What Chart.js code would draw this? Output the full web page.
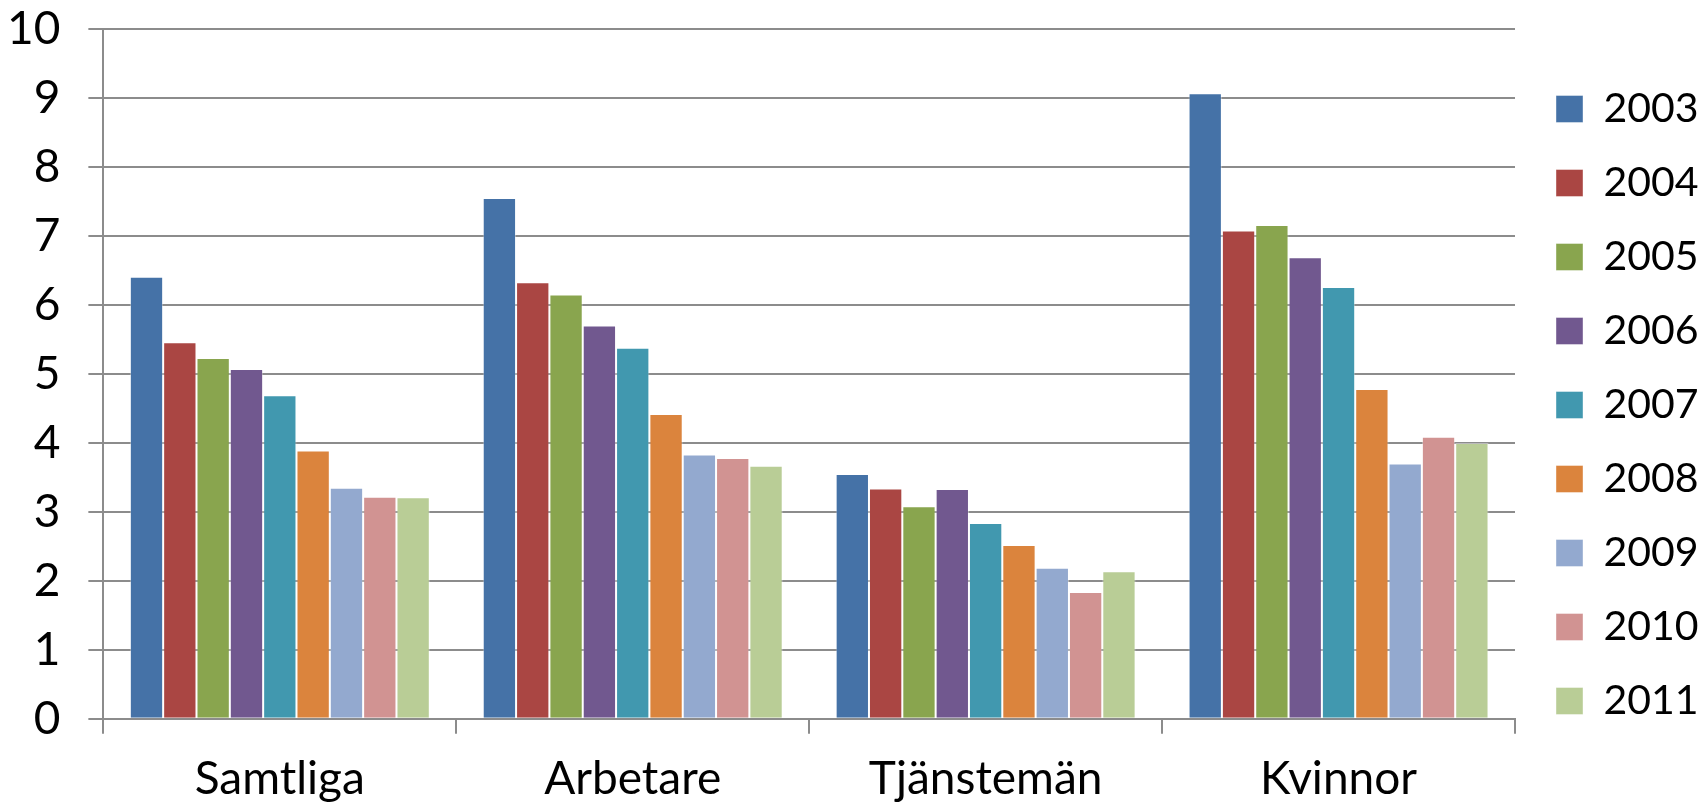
<!DOCTYPE html>
<html>
<head>
<meta charset="utf-8">
<script src="https://cdn.jsdelivr.net/npm/chart.js@4"></script>
<style>
  html, body { margin: 0; padding: 0; background: #fff; }
  #wrap { width: 1698px; height: 803px; }
</style>
</head>
<body>
<div id="wrap"><canvas id="chart"></canvas></div>
<script>
const categories = ['Samtliga', 'Arbetare', 'Tjänstemän', 'Kvinnor'];
const years = ['2003', '2004', '2005', '2006', '2007', '2008', '2009', '2010', '2011'];

const s2003 = [6.41, 7.55, 3.55, 9.07];
const s2004 = [5.46, 6.33, 3.34, 7.08];
const s2005 = [5.23, 6.15, 3.08, 7.16];
const s2006 = [5.07, 5.70, 3.33, 6.69];
const s2007 = [4.69, 5.38, 2.84, 6.26];
const s2008 = [3.89, 4.42, 2.52, 4.78];
const s2009 = [3.35, 3.83, 2.19, 3.70];
const s2010 = [3.22, 3.78, 1.84, 4.09];
const s2011 = [3.21, 3.67, 2.14, 4.00];

const yTicks = [0, 1, 2, 3, 4, 5, 6, 7, 8, 9, 10];

const series = [s2003, s2004, s2005, s2006, s2007, s2008, s2009, s2010, s2011];
const colors = ['#4572A7', '#AA4643', '#89A54E', '#71588F', '#4198AF',
                '#DB843D', '#93A9CF', '#D19392', '#B9CD96'];

const gridColor = '#8c8c8c';
const tickFont = { family: 'Lato', size: 46 };
const legendFont = { family: 'Lato', size: 41 };

// legend is moved after layout so the plot keeps its width
const legendShift = {
    id: 'legendShift',
    afterLayout(chart) {
        const lg = chart.legend;
        const w = lg.right - lg.left;
        lg.left = 1523;
        lg.right = lg.left + w;
        lg.top -= 22;
        lg.bottom -= 22;
    }
};

new Chart(document.getElementById('chart'), {
    type: 'bar',
    data: {
        labels: categories,
        datasets: years.map((y, i) => ({
            label: y,
            data: series[i],
            backgroundColor: colors[i],
            borderColor: 'rgba(255,255,255,0.4)',
            borderWidth: 1,
            categoryPercentage: 0.85,
            barPercentage: 1.0
        }))
    },
    options: {
        responsive: true,
        maintainAspectRatio: false,
        animation: false,
        layout: { padding: { left: -21, top: 29, right: 0, bottom: -22 } },
        plugins: {
            legend: {
                position: 'right',
                maxWidth: 183,
                labels: {
                    boxWidth: 27,
                    boxHeight: 27,
                    padding: 33,
                    color: '#000',
                    font: legendFont
                }
            },
            tooltip: { enabled: false }
        },
        scales: {
            x: {
                grid: {
                    offset: true,
                    drawOnChartArea: false,
                    tickLength: 15,
                    color: gridColor,
                    lineWidth: 2
                },
                border: { color: gridColor, width: 2 },
                ticks: { color: '#000', font: tickFont, padding: 18 }
            },
            y: {
                min: 0,
                max: 10,
                afterBuildTicks(scale) {
                    scale.ticks = yTicks.map(v => ({ value: v }));
                },
                afterFit(scale) {
                    // only half a label is needed above the top tick
                    scale.paddingTop = 27;
                    scale.paddingBottom = 27;
                },
                grid: {
                    tickLength: 15,
                    color: gridColor,
                    lineWidth: 2
                },
                border: { color: gridColor, width: 2 },
                ticks: { color: '#000', font: tickFont, padding: 28 }
            }
        }
    },
    plugins: [legendShift]
});
</script>
</body>
</html>
